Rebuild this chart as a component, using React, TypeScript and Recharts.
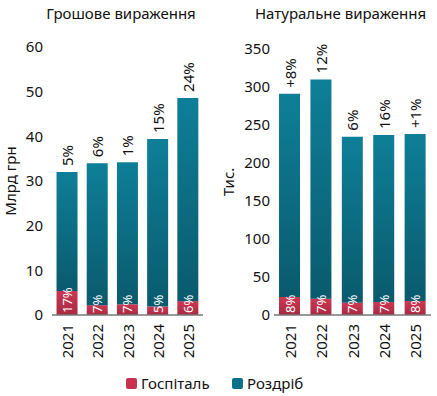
import { BarChart, Bar, XAxis, YAxis, LabelList } from "recharts";

const years = ["2021", "2022", "2023", "2024", "2025"];

// Грошове вираження, млрд грн
const moneyHospital = [5.4, 2.2, 2.4, 1.9, 3.1];
const moneyRetail = [26.6, 31.8, 31.8, 37.5, 45.5];
const moneyGrowth = ["5%", "6%", "1%", "15%", "24%"];
const moneyHospShare = ["17%", "7%", "7%", "5%", "6%"];

// Натуральне вираження, тис.
const unitsHospital = [23.7, 21.5, 16.2, 17.1, 18.4];
const unitsRetail = [267.3, 288.5, 218.4, 219.7, 219.6];
const unitsGrowth = ["+8%", "12%", "6%", "16%", "+1%"];
const unitsHospShare = ["8%", "7%", "7%", "7%", "8%"];

const moneyTicks = [0, 10, 20, 30, 40, 50, 60];
const unitsTicks = [0, 50, 100, 150, 200, 250, 300, 350];

const FONT = "'Noto Sans', sans-serif";
const RED = "#c8324f";
const TEAL = "#0b7089";

const buildRows = (hosp: number[], retail: number[], growth: string[], share: string[]) =>
  years.map((year, i) => ({
    year,
    hospital: hosp[i],
    retail: retail[i],
    growth: growth[i],
    share: share[i],
  }));

const moneyData = buildRows(moneyHospital, moneyRetail, moneyGrowth, moneyHospShare);
const unitsData = buildRows(unitsHospital, unitsRetail, unitsGrowth, unitsHospShare);

const XTick = ({ x, y, payload }: any) => (
  <text
    transform={`translate(${x},${y}) rotate(-90)`}
    textAnchor="end"
    dominantBaseline="central"
    fontSize={15}
    fontFamily={FONT}
    fill="#111"
  >
    {payload.value}
  </text>
);

interface PanelProps {
  id: string;
  title: string;
  unit: string;
  data: typeof moneyData;
  ticks: number[];
  width: number;
  left: number;
  marginLeft: number;
  marginRight: number;
  marginTop: number;
  tickMargin: number;
  gap: string;
}

const Panel = (p: PanelProps) => {
  const rows = p.data;

  // подписи над стовпчиком (приріст) і внизу (частка госпіталю)
  const renderLabels = (props: any) => {
    const { x, y, width, height, index } = props;
    const row = rows[index];
    const cx = Number(x) + Number(width) / 2;
    const h = Number(height);
    const base = Number(y) + h + (h * row.hospital) / row.retail;
    return (
      <g>
        <text
          transform={`translate(${cx},${Number(y) - 6}) rotate(-90)`}
          textAnchor="start"
          dominantBaseline="central"
          fontSize={15}
          fontFamily={FONT}
          fill="#111"
        >
          {row.growth}
        </text>
        <text
          transform={`translate(${cx},${base - 2}) rotate(-90)`}
          textAnchor="start"
          dominantBaseline="central"
          fontSize={13}
          fontFamily={FONT}
          fill="#fff"
        >
          {row.share}
        </text>
      </g>
    );
  };

  return (
    <div style={{ position: "absolute", left: p.left, top: 0 }}>
      <div
        style={{
          position: "absolute",
          top: 3,
          left: 0,
          width: p.width,
          textAlign: "center",
          fontFamily: FONT,
          fontSize: 15,
          color: "#111",
          paddingLeft: p.marginLeft - 30,
          boxSizing: "border-box",
        }}
      >
        {p.title}
      </div>
      <BarChart
        width={p.width}
        height={396}
        data={rows}
        margin={{ top: p.marginTop, right: p.marginRight, bottom: 41, left: 0 }}
        barCategoryGap={p.gap}
      >
        <defs>
          <linearGradient id={`${p.id}-teal`} x1="0" y1="0" x2="0" y2="1">
            <stop offset="0%" stopColor="#0e7f98" />
            <stop offset="100%" stopColor="#0a5a6d" />
          </linearGradient>
          <linearGradient id={`${p.id}-red`} x1="0" y1="0" x2="0" y2="1">
            <stop offset="0%" stopColor="#cc3753" />
            <stop offset="100%" stopColor="#a82a42" />
          </linearGradient>
        </defs>
        <XAxis
          dataKey="year"
          tickLine={false}
          axisLine={{ stroke: "#777", strokeWidth: 1.5 }}
          tickSize={0}
          tickMargin={9}
          height={40}
          interval={0}
          tick={<XTick />}
        />
        <YAxis
          width={p.marginLeft}
          domain={[p.ticks[0], p.ticks[p.ticks.length - 1]]}
          ticks={p.ticks}
          interval={0}
          tickLine={false}
          axisLine={false}
          tickSize={0}
          tickMargin={p.tickMargin}
          tick={{ fontSize: 15, fill: "#111", fontFamily: FONT }}
          label={(lp: any) => {
            const vb = lp.viewBox;
            const cy = vb.y + vb.height / 2;
            return (
              <text
                transform={`translate(${vb.x + 10},${cy}) rotate(-90)`}
                textAnchor="middle"
                dominantBaseline="central"
                fontSize={15}
                fontFamily={FONT}
                fill="#111"
              >
                {p.unit}
              </text>
            );
          }}
        />
        <Bar
          dataKey="hospital"
          stackId="a"
          fill={`url(#${p.id}-red)`}
          isAnimationActive={false}
        />
        <Bar
          dataKey="retail"
          stackId="a"
          fill={`url(#${p.id}-teal)`}
          isAnimationActive={false}
        >
          <LabelList dataKey="growth" content={renderLabels} />
        </Bar>
      </BarChart>
    </div>
  );
};

const LegendItem = ({ color, label, left }: { color: string; label: string; left: number }) => (
  <div
    style={{
      position: "absolute",
      left,
      top: 373,
      display: "flex",
      alignItems: "center",
      fontFamily: FONT,
      fontSize: 15,
      color: "#111",
    }}
  >
    <span
      style={{
        display: "inline-block",
        width: 11,
        height: 11,
        borderRadius: 2,
        background: color,
        marginRight: 4,
      }}
    />
    {label}
  </div>
);

export default function App() {
  return (
    <div
      style={{
        position: "fixed",
        left: 0,
        top: 0,
        width: 437,
        height: 396,
        background: "#fff",
        overflow: "hidden",
      }}
    >
      <Panel
        id="money"
        title="Грошове вираження"
        unit="Млрд грн"
        data={moneyData}
        ticks={moneyTicks}
        width={220}
        left={0}
        marginLeft={52}
        marginRight={17}
        marginTop={47}
        tickMargin={9}
        gap="15%"
      />
      <Panel
        id="units"
        title="Натуральне вираження"
        unit="Тис."
        data={unitsData}
        ticks={unitsTicks}
        width={219}
        left={218}
        marginLeft={56}
        marginRight={6}
        marginTop={49}
        tickMargin={4}
        gap="16%"
      />
      <LegendItem color={RED} label="Госпіталь" left={126} />
      <LegendItem color={TEAL} label="Роздріб" left={232} />
    </div>
  );
}
